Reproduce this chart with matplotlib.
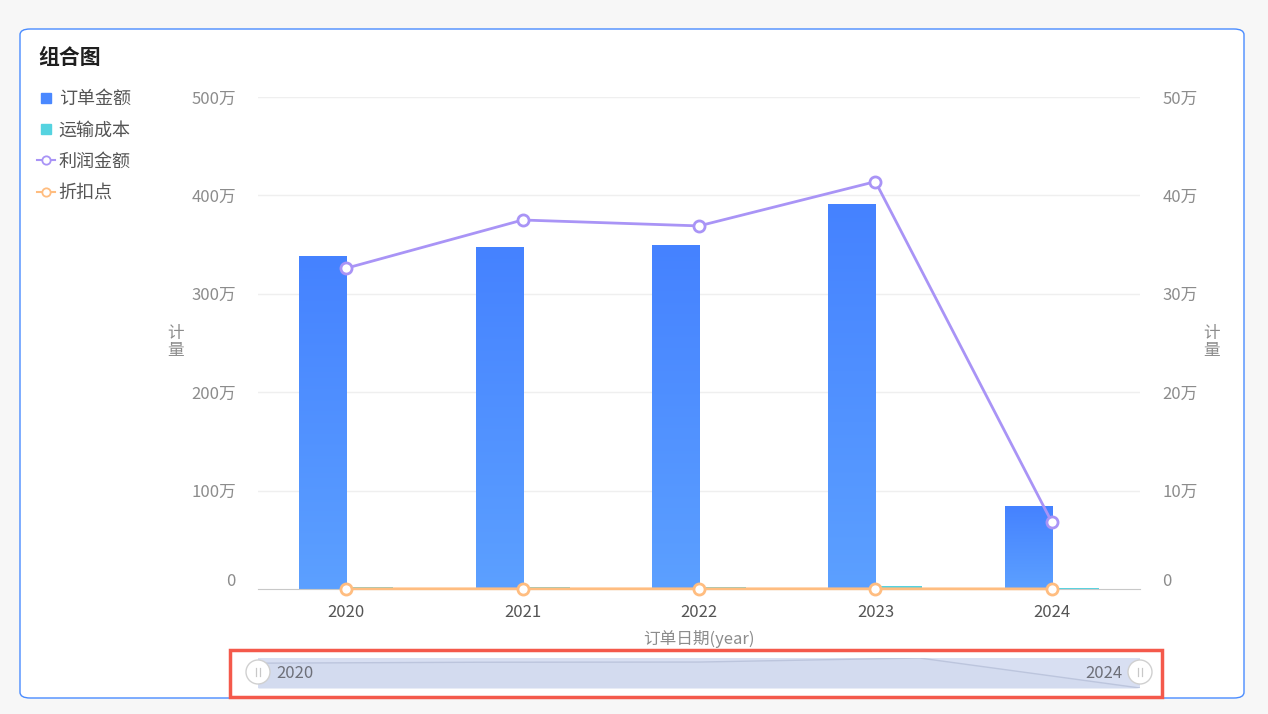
import numpy as np
import matplotlib
matplotlib.use("Agg")
import matplotlib.pyplot as plt
from matplotlib.patches import FancyBboxPatch, Rectangle, Ellipse
from matplotlib.lines import Line2D
from matplotlib.colors import LinearSegmentedColormap
from matplotlib.transforms import ScaledTranslation

plt.rcParams['font.family'] = ['Noto Sans CJK SC', 'DejaVu Sans']

# ---------------- data ----------------
years = ['2020', '2021', '2022', '2023', '2024']
order_amount = [338, 347.5, 349.5, 391, 84]        # 万 (left axis)
transport_cost = [2.4, 2.5, 2.5, 2.7, 1.2]         # 万 (left axis)
profit = [32.6, 37.5, 36.9, 41.4, 6.8]             # 万 (right axis)
discount = [0.02, 0.02, 0.02, 0.02, 0.01]          # 万 (right axis)
left_ticks = [0, 100, 200, 300, 400, 500]
left_labels = ['0', '100万', '200万', '300万', '400万', '500万']
right_ticks = [0, 10, 20, 30, 40, 50]
right_labels = ['0', '10万', '20万', '30万', '40万', '50万']

W, H = 1268, 714
fig = plt.figure(figsize=(W / 100, H / 100), dpi=100)
fig.patch.set_facecolor('#f7f7f7')

def fx(px):
    return px / W

def fy(py):
    return 1 - py / H

# card
card = FancyBboxPatch((fx(20), fy(698)), fx(1244) - fx(20), fy(29) - fy(698),
                      boxstyle="round,pad=0,rounding_size=0.008",
                      transform=fig.transFigure, facecolor='white',
                      edgecolor='#4a8cff', linewidth=1.0, zorder=-10)
fig.patches.append(card)

fig.text(fx(38), fy(57), '组合图', fontsize=15, fontweight='bold',
         color='#1f1f1f', va='center', ha='left')

# main axes
x0, x1, yt, yb = 258, 1140, 97, 589
ax = fig.add_axes([fx(x0), fy(yb), fx(x1) - fx(x0), fy(yt) - fy(yb)])
ax.set_facecolor('none')
n = len(years)
x = np.arange(n)
for s in ['top', 'right', 'left']:
    ax.spines[s].set_visible(False)
ax.spines['bottom'].set_color('#c8c8c8')
ax.set_yticks(left_ticks)
ax.set_yticklabels(left_labels)
ax.tick_params(axis='y', length=0, pad=16, labelsize=12, labelcolor='#8c8c8c')
ax.set_xticks(x)
ax.set_xticklabels(years)
ax.tick_params(axis='x', length=0, pad=11, labelsize=12, labelcolor='#555555')
for t in left_ticks[1:]:
    ax.axhline(t, color='#efefef', lw=1, zorder=0)

bw = 0.267
cmap_bar = LinearSegmentedColormap.from_list('b', ['#5ca0ff', '#4582ff'])
bars = ax.bar(x - bw / 2, order_amount, width=bw, color='#4a88ff', zorder=2)
for b in bars:
    bx, by = b.get_x(), b.get_y()
    bh, bwid = b.get_height(), b.get_width()
    grad = np.linspace(0, 1, 256).reshape(-1, 1)
    im = ax.imshow(grad, extent=[bx, bx + bwid, by, by + bh], origin='lower',
                   aspect='auto', cmap=cmap_bar, zorder=2.1)
    im.set_clip_path(b)
ax.bar(x + bw / 2, transport_cost, width=bw, color='#55d3e0', zorder=2)
ax.set_xlim(-0.5, n - 0.5)
ax.set_ylim(0, 500)

ax.set_xlabel('订单日期(year)', fontsize=12, color='#8c8c8c', labelpad=6)

# right axis
ax2 = ax.twinx()
ax2.set_ylim(0, 50)
for s in ax2.spines.values():
    s.set_visible(False)
ax2.set_yticks(right_ticks)
ax2.set_yticklabels(right_labels)
ax2.tick_params(axis='y', length=0, pad=16, labelsize=12, labelcolor='#8c8c8c')
ax2.plot(x, profit, color='#a994f6', lw=2, marker='o', markersize=8,
         markerfacecolor='white', markeredgecolor='#a994f6', markeredgewidth=2,
         zorder=5, clip_on=False)
ax2.plot(x, discount, color='#ffbd80', lw=2, marker='o', markersize=8,
         markerfacecolor='white', markeredgecolor='#ffbd80', markeredgewidth=2,
         zorder=5, clip_on=False)

# raise the "0" labels a little, as in the reference
up = ScaledTranslation(0, 9 / 100, fig.dpi_scale_trans)
for a in (ax, ax2):
    t0 = a.yaxis.get_major_ticks()[0]
    t0.label1.set_transform(t0.label1.get_transform() + up)
    t0.label2.set_transform(t0.label2.get_transform() + up)

# vertical axis titles
fig.text(fx(176), fy(342), '计\n量', fontsize=12, color='#8c8c8c',
         ha='center', va='center', linespacing=0.95)
fig.text(fx(1212), fy(342), '计\n量', fontsize=12, color='#8c8c8c',
         ha='center', va='center', linespacing=0.95)

# legend
handles = [
    Line2D([], [], ls='none', marker='s', markersize=7.5, color='#4a88ff'),
    Line2D([], [], ls='none', marker='s', markersize=7.5, color='#55d3e0'),
    Line2D([], [], color='#a994f6', lw=1.5, marker='o', markersize=6,
           markerfacecolor='white', markeredgecolor='#a994f6', markeredgewidth=1.3),
    Line2D([], [], color='#ffbd80', lw=1.5, marker='o', markersize=6,
           markerfacecolor='white', markeredgecolor='#ffbd80', markeredgewidth=1.3),
]
labels = ['订单金额', '运输成本', '利润金额', '折扣点']
fig.legend(handles, labels, loc='upper left', bbox_to_anchor=(fx(37), fy(90)),
           frameon=False, fontsize=13, labelcolor='#555555', handlelength=1.0,
           handletextpad=0.2, labelspacing=0.74, borderpad=0, borderaxespad=0)

# slider
red = Rectangle((fx(230), fy(697)), fx(1162) - fx(230), fy(650) - fy(697),
                transform=fig.transFigure, facecolor='none', edgecolor='#f4594b',
                linewidth=2.5, zorder=1)
fig.patches.append(red)
sax = fig.add_axes([fx(258), fy(688), fx(1140) - fx(258), fy(658) - fy(688)])
sax.set_xlim(0, n - 1)
sax.set_ylim(0, 1)
sax.axis('off')
sax.add_patch(Rectangle((0, 0), n - 1, 1, facecolor='#d8dff2', edgecolor='none', zorder=0))
oa = np.array(order_amount, dtype=float)
norm = (oa - oa.min()) / (oa.max() - oa.min())
sax.fill_between(x, 0, norm, color='#d3dbef', zorder=1, lw=0)
sax.plot(x, norm, color='#bcc5dd', lw=1, zorder=2)
sax.text(18 / 882 * (n - 1), 0.5, years[0], fontsize=12, color='#6e7079',
         ha='left', va='center', zorder=4)
sax.text((n - 1) - 18 / 882 * (n - 1), 0.5, years[-1], fontsize=12, color='#6e7079',
         ha='right', va='center', zorder=4)
for hx in [258, 1140]:
    c = Ellipse((fx(hx), fy(672)), 24 / W, 24 / H, transform=fig.transFigure,
                facecolor='white', edgecolor='#d0d0d0', lw=1, zorder=5)
    fig.patches.append(c)
    for dx in (-2, 2):
        fig.lines.append(Line2D([fx(hx + dx), fx(hx + dx)], [fy(668), fy(676)],
                                transform=fig.transFigure, color='#c8c8c8', lw=0.9,
                                zorder=6))

fig.savefig('out.png', dpi=100, facecolor=fig.get_facecolor())
